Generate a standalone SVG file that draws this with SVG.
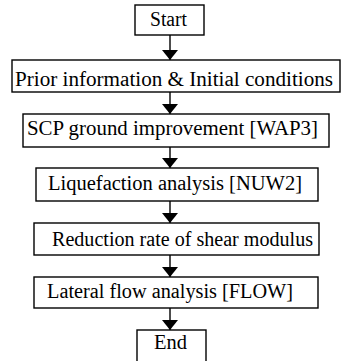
<svg xmlns="http://www.w3.org/2000/svg" width="343" height="361" viewBox="0 0 343 361">
<defs>
<marker id="ah" markerUnits="userSpaceOnUse" markerWidth="10" markerHeight="16" refX="10" refY="5" orient="auto" viewBox="0 0 10 10" preserveAspectRatio="none">
<path d="M0,0 L10,5 L0,10 Z" fill="#000"/>
</marker>
<style>
.box{fill:#fff;stroke:#000;stroke-width:1.4}
.c{stroke:#000;stroke-width:1.4;fill:none;marker-end:url(#ah)}
</style>
</defs>
<rect width="343" height="361" fill="#fff"/>
<g id="connectors">
<line class="c" x1="170" y1="35" x2="170" y2="60"/>
<line class="c" x1="170" y1="92" x2="170" y2="114"/>
<line class="c" x1="170" y1="147" x2="170" y2="168"/>
<line class="c" x1="170" y1="201" x2="170" y2="223"/>
<line class="c" x1="170" y1="255" x2="170" y2="277"/>
<line class="c" x1="170" y1="308" x2="170" y2="330"/>
</g>
<g font-family="Liberation Serif, Times New Roman, serif" font-size="20" fill="#000">
<g id="start"><rect class="box" x="135" y="5" width="69" height="30"/><text x="150" y="26" textLength="37" lengthAdjust="spacingAndGlyphs">Start</text></g>
<g id="prior"><rect class="box" x="12" y="60" width="328" height="32"/><text x="15" y="86" textLength="318" lengthAdjust="spacingAndGlyphs">Prior information &amp; Initial conditions</text></g>
<g id="scp"><rect class="box" x="23" y="114" width="306" height="33"/><text x="27" y="135" textLength="291" lengthAdjust="spacingAndGlyphs">SCP ground improvement [WAP3]</text></g>
<g id="liq"><rect class="box" x="36" y="168" width="282" height="33"/><text x="48" y="190" textLength="254" lengthAdjust="spacingAndGlyphs">Liquefaction analysis [NUW2]</text></g>
<g id="red"><rect class="box" x="34" y="223" width="285" height="32"/><text x="52" y="246" textLength="261" lengthAdjust="spacingAndGlyphs">Reduction rate of shear modulus</text></g>
<g id="lat"><rect class="box" x="34" y="277" width="284" height="31"/><text x="47" y="298" textLength="246" lengthAdjust="spacingAndGlyphs">Lateral flow analysis [FLOW]</text></g>
<g id="end"><rect class="box" x="137" y="330" width="69" height="34"/><text x="154" y="349" textLength="33" lengthAdjust="spacingAndGlyphs">End</text></g>
</g>
</svg>
